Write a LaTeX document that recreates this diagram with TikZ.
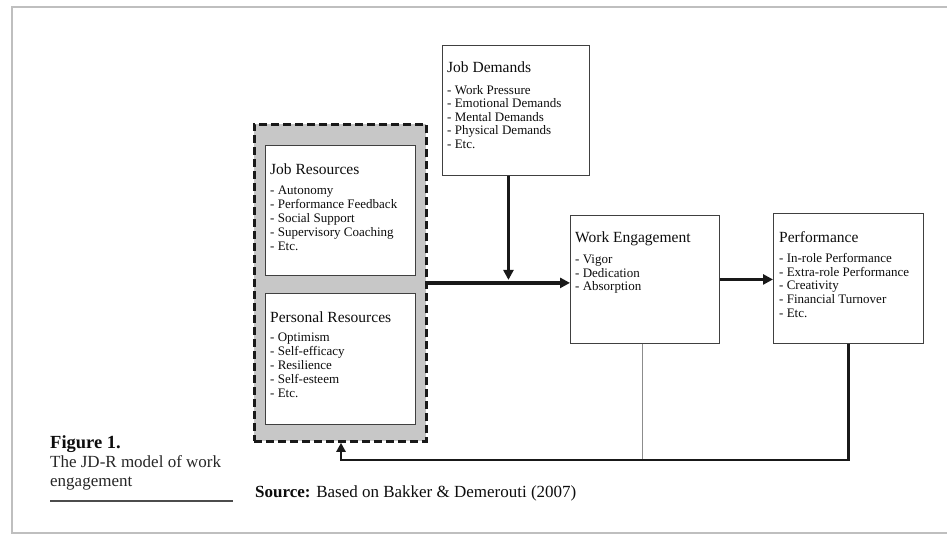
\documentclass[tikz,border=0pt]{standalone}
\usepackage{fontspec}
\setmainfont{Liberation Serif}
\usetikzlibrary{arrows.meta,calc}
\begin{document}
\begin{tikzpicture}[x=1pt,y=-1pt,
  box/.style={draw=black!75,line width=0.9pt,fill=white,inner sep=0pt,anchor=north west},
  ttl/.style={font=\fontsize{15.5}{18}\selectfont,text=black!95,inner sep=0pt,anchor=base west},
  items/.style={font=\fontsize{13}{#1}\selectfont,text=black!95,align=left,inner sep=0pt,anchor=north west},
  items/.default=14,
  arr/.style={draw=black!90,line width=3.2pt,-{Triangle[length=10pt,width=10pt]}},
  fbarr/.style={draw=black!90,line width=2.8pt,-{Triangle[length=9pt,width=9pt]}},
  thinline/.style={draw=black!45,line width=0.7pt},
  captxt/.style={font=\fontsize{17}{19}\selectfont,text=black!85,inner sep=0pt,anchor=base west}
]
\useasboundingbox (0,0) rectangle (947,535);
% page frame
\draw[black!25,line width=1.2pt] (947,7) -- (12,7) -- (12,533) -- (947,533);

% resources group
\node[draw=black!90,line width=2.8pt,dash pattern=on 8pt off 4pt,fill=black!22,
      minimum width=172pt,minimum height=317pt,inner sep=0pt,anchor=north west] (res) at (253,123) {};

\node[box,minimum width=150pt,minimum height=130pt] (jr) at (265,145) {};
\node[ttl] (jrt) at (270,174) {Job Resources};
\node[items] (jri) at (270,186) {- Autonomy\\- Performance Feedback\\- Social Support\\- Supervisory Coaching\\- Etc.};

\node[box,minimum width=150pt,minimum height=131pt] (pr) at (265,293) {};
\node[ttl] (prt) at (270,322) {Personal Resources};
\node[items] (pri) at (270,333) {- Optimism\\- Self-efficacy\\- Resilience\\- Self-esteem\\- Etc.};

% job demands
\node[box,minimum width=147pt,minimum height=130pt] (jd) at (442,45) {};
\node[ttl] (jdt) at (447,73) {Job Demands};
\node[items=13.5] (jdi) at (447,85) {- Work Pressure\\- Emotional Demands\\- Mental Demands\\- Physical Demands\\- Etc.};

% work engagement
\node[box,minimum width=149pt,minimum height=128pt] (we) at (570,215) {};
\node[ttl] (wet) at (575,242) {Work Engagement};
\node[items=13.5] (wei) at (575,255) {- Vigor\\- Dedication\\- Absorption};

% performance
\node[box,minimum width=150pt,minimum height=130pt] (pf) at (773,213) {};
\node[ttl] (pft) at (779,242) {Performance};
\node[items=13.75] (pfi) at (779,253) {- In-role Performance\\- Extra-role Performance\\- Creativity\\- Financial Turnover\\- Etc.};

% connectors
\coordinate (fbl) at (341,460);
\draw[thinline] ([xshift=-2.5pt]we.south) -- ([xshift=-2.5pt]we.south |- fbl);
\draw[arr] (res.east) -- (res.east -| we.west);
\draw[arr,shorten >=3pt] ([xshift=-7.5pt]jd.south) -- ([xshift=-7.5pt]jd.south |- res.east);
\draw[arr] (we.east) -- (we.east -| pf.west);
\draw[fbarr] (pf.south) |- (fbl) -- (fbl |- res.south);

% caption
\node[captxt,font=\bfseries\fontsize{18.5}{19}\selectfont,text=black!95] (fig) at (50,448) {Figure 1.};
\node[captxt] (cap1) at (50,467) {The JD-R model of work};
\node[captxt] (cap2) at (50,486) {engagement};
\coordinate (ul1) at (50,501);
\coordinate (ul2) at (233,501);
\draw[black!70,line width=1.2pt] (ul1) -- (ul2);
\node[captxt,text=black!95] (src) at (255,497) {\textbf{Source:} Based on Bakker \& Demerouti (2007)};
\end{tikzpicture}
\end{document}
